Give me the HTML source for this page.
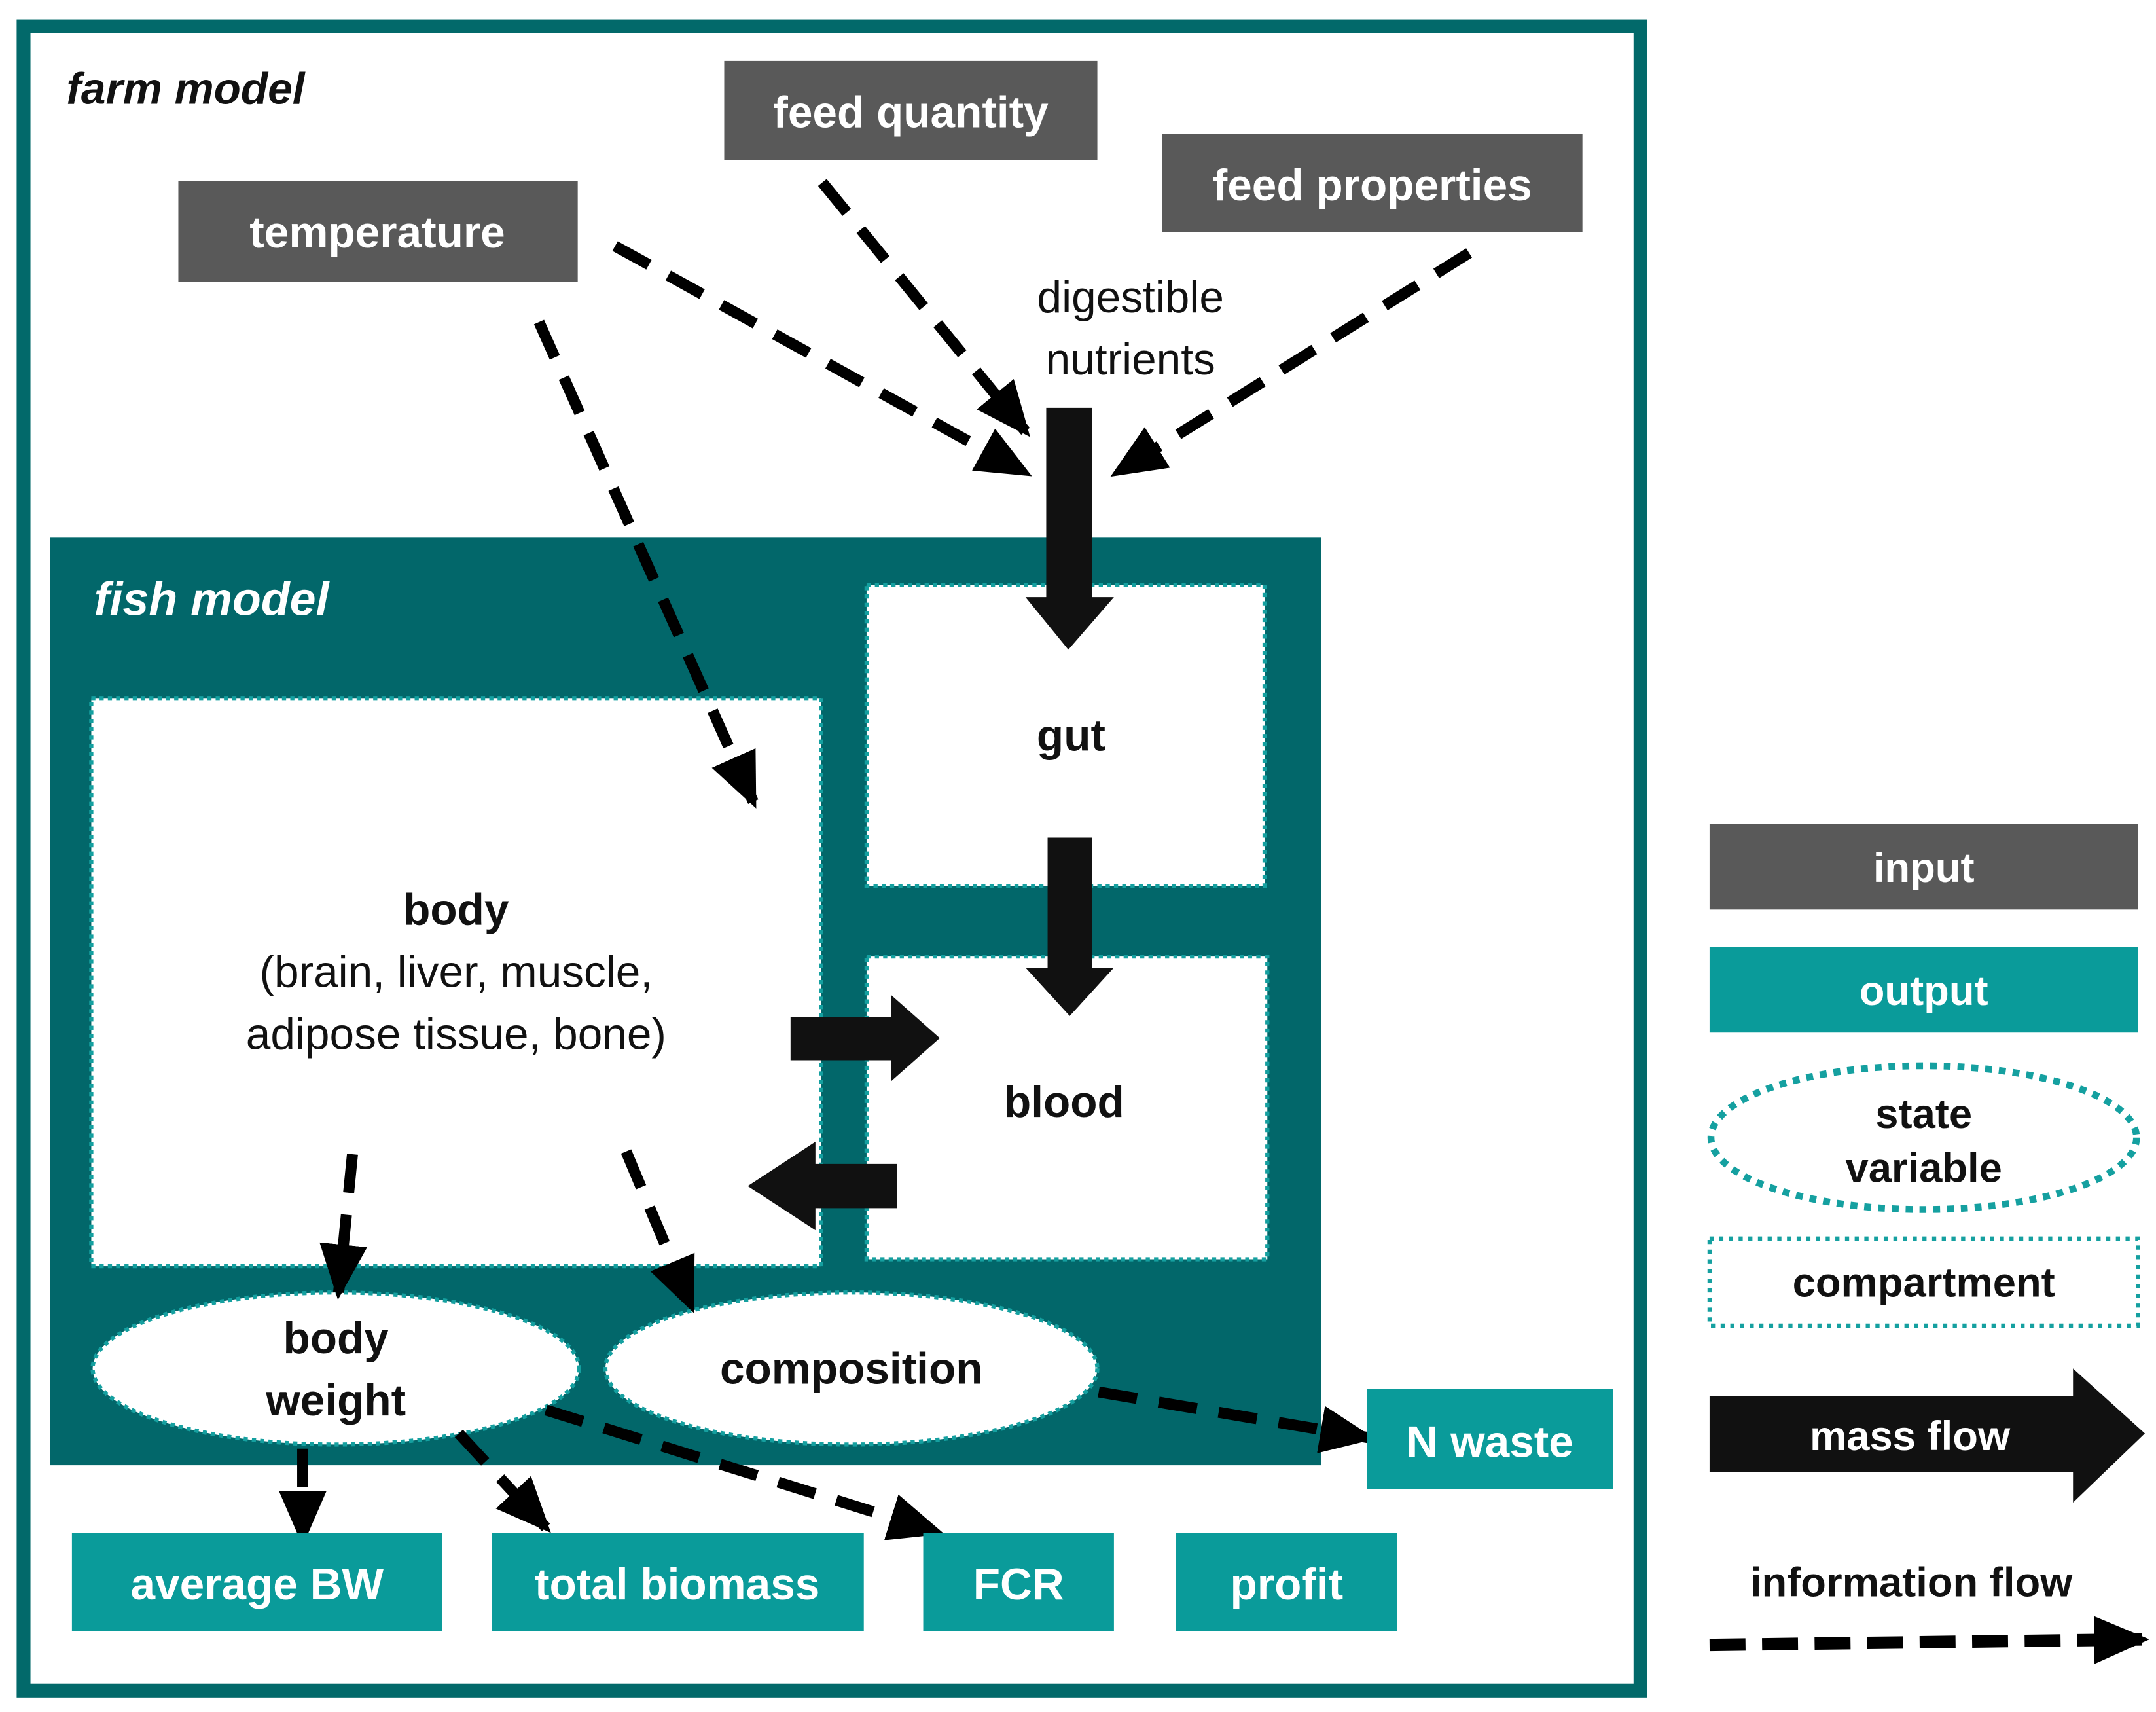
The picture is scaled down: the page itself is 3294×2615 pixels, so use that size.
<!DOCTYPE html>
<html><head><meta charset="utf-8"><style>html,body{margin:0;padding:0;background:#fff}svg{display:block}</style></head>
<body>
<svg width="3294" height="2615" viewBox="0 0 1560 1238.5" xmlns="http://www.w3.org/2000/svg" font-family="Liberation Sans, DejaVu Sans, sans-serif">
<defs>
<marker id="ah" markerUnits="userSpaceOnUse" markerWidth="40" markerHeight="40" viewBox="0 0 30 30" refX="26" refY="15" orient="auto">
<path d="M0,2 L30,15 L0,28 Z" fill="#000"/>
</marker>
</defs>
<rect x="0" y="0" width="1560" height="1238.5" fill="#fff"/>
<rect x="17" y="19" width="1170" height="1204" fill="#fff" stroke="#02696a" stroke-width="10"/>
<text x="48" y="75" font-size="32" font-weight="bold" font-style="italic" fill="#111">farm model</text>

<g font-size="32" font-weight="bold" fill="#fff" text-anchor="middle">
<rect x="524" y="44" width="270" height="72" fill="#595959"/>
<text x="659" y="92">feed quantity</text>
<rect x="841" y="97" width="304" height="71" fill="#595959"/>
<text x="993" y="145">feed properties</text>
<rect x="129" y="131" width="289" height="73" fill="#595959"/>
<text x="273" y="179">temperature</text>
</g>
<g font-size="32" fill="#111" text-anchor="middle">
<text x="818" y="226">digestible</text>
<text x="818" y="271">nutrients</text>
</g>

<rect x="36" y="389" width="920" height="671" fill="#02676a"/>
<text x="68" y="445" font-size="34" font-weight="bold" font-style="italic" fill="#fff">fish model</text>

<g fill="#fff" stroke="#15a0a0" stroke-width="3" stroke-dasharray="3 3">
<rect x="627" y="423" width="288" height="218"/>
<rect x="627" y="692" width="290" height="219"/>
<rect x="66" y="505" width="528" height="411"/>
<ellipse cx="243" cy="990" rx="176" ry="55"/>
<ellipse cx="616" cy="990" rx="178" ry="55"/>
</g>
<g font-size="32" fill="#111" text-anchor="middle">
<text x="775" y="543" font-weight="bold">gut</text>
<text x="770" y="808" font-weight="bold">blood</text>
<text x="330" y="669" font-weight="bold">body</text>
<text x="330" y="714">(brain, liver, muscle,</text>
<text x="330" y="759">adipose tissue, bone)</text>
<text x="243" y="979" font-weight="bold">body</text>
<text x="243" y="1024" font-weight="bold">weight</text>
<text x="616" y="1001" font-weight="bold">composition</text>
</g>

<!-- mass flow arrows -->
<g fill="#111">
<path d="M757,295 H790 V432 H806 L773,470 L742,432 H757 Z"/>
<path d="M758,606 H790 V700 H806 L774,735 L742,700 H758 Z"/>
<path d="M572,736 H645 V720 L680,751 L645,782 V767 H572 Z"/>
<path d="M649,842 H590 V826 L541,858 L590,890 V874 H649 Z"/>
</g>

<!-- info flow arrows -->
<g stroke="#000" stroke-width="8" stroke-dasharray="28 16" fill="none" marker-end="url(#ah)">
<line x1="445" y1="178" x2="742" y2="342"/>
<line x1="595" y1="132" x2="742" y2="312"/>
<line x1="1063" y1="183" x2="808" y2="342"/>
<line x1="390" y1="233" x2="545" y2="580"/>
<line x1="255" y1="835" x2="245" y2="935"/>
<line x1="453" y1="833" x2="500" y2="945"/>
<line x1="795" y1="1007" x2="990" y2="1040"/>
<line x1="219" y1="1048" x2="219" y2="1113"/>
<line x1="332" y1="1037" x2="395" y2="1105"/>
<line x1="395" y1="1020" x2="678" y2="1108"/>
</g>

<g font-size="32" font-weight="bold" fill="#fff" text-anchor="middle">
<rect x="989" y="1005" width="178" height="72" fill="#0a9b9a"/>
<text x="1078" y="1054">N waste</text>
<rect x="52" y="1109" width="268" height="71" fill="#0a9b9a"/>
<text x="186" y="1157">average BW</text>
<rect x="356" y="1109" width="269" height="71" fill="#0a9b9a"/>
<text x="490" y="1157">total biomass</text>
<rect x="668" y="1109" width="138" height="71" fill="#0a9b9a"/>
<text x="737" y="1157">FCR</text>
<rect x="851" y="1109" width="160" height="71" fill="#0a9b9a"/>
<text x="931" y="1157">profit</text>
</g>

<!-- legend -->
<rect x="1237" y="596" width="310" height="62" fill="#595959"/>
<rect x="1237" y="685" width="310" height="62" fill="#0a9b9a"/>
<ellipse cx="1392" cy="823" rx="154" ry="52" fill="#fff" stroke="#15a0a0" stroke-width="5" stroke-dasharray="5 5"/>
<rect x="1237" y="896" width="310" height="63" fill="#fff" stroke="#15a0a0" stroke-width="3" stroke-dasharray="3 4"/>
<path d="M1237,1010 H1500 V990 L1552,1037 L1500,1087 V1065 H1237 Z" fill="#111"/>
<g font-size="30" font-weight="bold" text-anchor="middle">
<text x="1392" y="638" fill="#fff">input</text>
<text x="1392" y="727" fill="#fff">output</text>
<text x="1392" y="816" fill="#111">state</text>
<text x="1392" y="855" fill="#111">variable</text>
<text x="1392" y="938" fill="#111">compartment</text>
<text x="1382" y="1049" fill="#fff">mass flow</text>
<text x="1383" y="1155" fill="#111">information flow</text>
</g>
<line x1="1237" y1="1190" x2="1550" y2="1186" stroke="#000" stroke-width="9" stroke-dasharray="26 12" marker-end="url(#ah)"/>
</svg>
</body></html>
